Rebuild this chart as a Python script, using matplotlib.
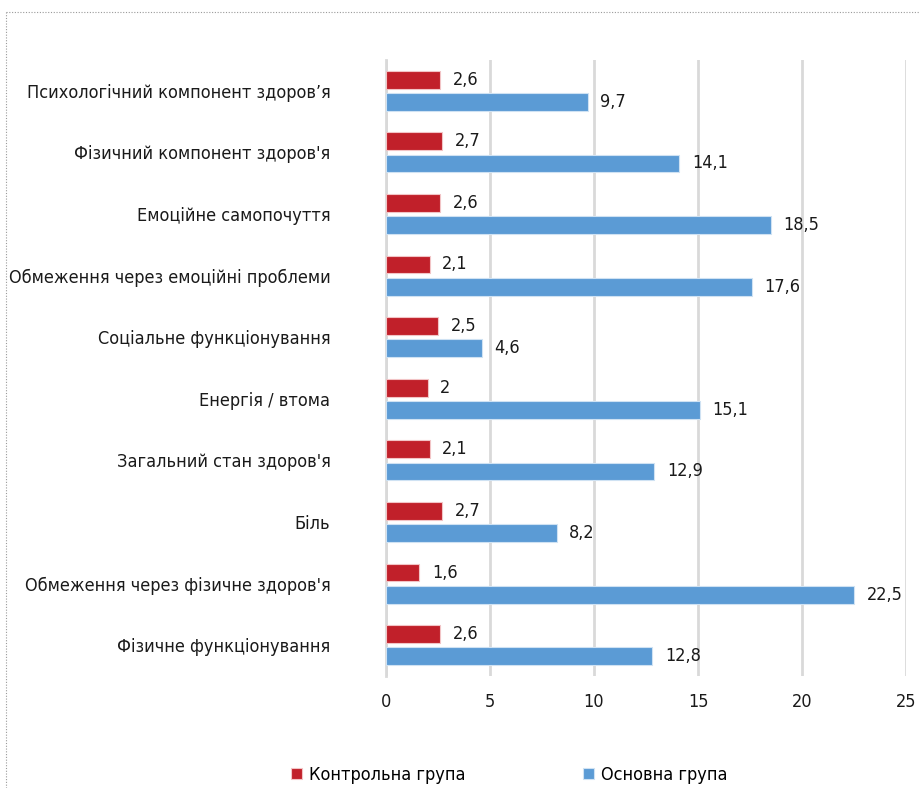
import matplotlib
matplotlib.use('Agg')
import matplotlib.pyplot as plt
from matplotlib.lines import Line2D
import numpy as np

plt.rcParams['font.family'] = ['DejaVu Sans']
plt.rcParams['font.stretch'] = 'condensed'

# дані (зверху вниз)
categories = ["Психологічний компонент здоров’я", "Фізичний компонент здоров'я",
              "Емоційне самопочуття", "Обмеження через емоційні проблеми",
              "Соціальне функціонування", "Енергія / втома",
              "Загальний стан здоров'я", "Біль",
              "Обмеження через фізичне здоров'я", "Фізичне функціонування"]
control = [2.6, 2.7, 2.6, 2.1, 2.5, 2.0, 2.1, 2.7, 1.6, 2.6]
main = [9.7, 14.1, 18.5, 17.6, 4.6, 15.1, 12.9, 8.2, 22.5, 12.8]
series_names = ['Контрольна група', 'Основна група']
xticks = [0, 5, 10, 15, 20, 25]

red = '#C1202A'
blue = '#5B9BD5'
grid_c = '#D9D9D9'
txt_c = '#1a1a1a'
fs = 13

fig = plt.figure(figsize=(9.2, 7.88), dpi=100)
ax = fig.add_axes([0.4196, 0.1421, 0.5652, 0.7818])

y = np.arange(len(categories))
h = 0.29
b1 = ax.barh(y - 0.18, control, height=h, color=red, edgecolor='#F2C4C6', linewidth=0.8,
             label=series_names[0], zorder=3)
b2 = ax.barh(y + 0.18, main, height=h, color=blue, edgecolor='#CFE2F3', linewidth=0.8,
             label=series_names[1], zorder=3)

fmt = lambda v: ('%g' % v).replace('.', ',')
ax.bar_label(b1, labels=[fmt(v) for v in control], padding=9, fontsize=fs, color=txt_c)
ax.bar_label(b2, labels=[fmt(v) for v in main], padding=9, fontsize=fs, color=txt_c)

ax.set_ylim(len(categories) - 0.5, -0.5)
ax.set_xlim(0, 25)
ax.set_xticks(xticks)
ax.set_xticklabels([str(t) for t in xticks], fontsize=fs, color=txt_c)
ax.set_yticks(y)
ax.set_yticklabels(categories, fontsize=fs, color=txt_c)
ax.tick_params(axis='x', length=0, pad=12)
ax.tick_params(axis='y', length=0, pad=40)

ax.grid(axis='x', color=grid_c, linewidth=2, zorder=0)
for s in ['top', 'right', 'bottom']:
    ax.spines[s].set_visible(False)
ax.spines['left'].set_color(grid_c)
ax.spines['left'].set_linewidth(2)

leg = fig.legend(handles=[b1, b2], loc='center', bbox_to_anchor=(0.554, 0.0165), ncol=2,
                 frameon=False, fontsize=fs, handlelength=0.6, handleheight=0.6,
                 handletextpad=0.4, columnspacing=6.5)

# пунктирна рамка
fig.add_artist(Line2D([0.006, 1.0], [0.985, 0.985], transform=fig.transFigure,
                      color='#9a9a9a', linestyle=(0, (1, 1.5)), linewidth=0.8))
fig.add_artist(Line2D([0.006, 0.006], [0.0, 0.985], transform=fig.transFigure,
                      color='#9a9a9a', linestyle=(0, (1, 1.5)), linewidth=0.8))

fig.savefig('out.png', dpi=100)
